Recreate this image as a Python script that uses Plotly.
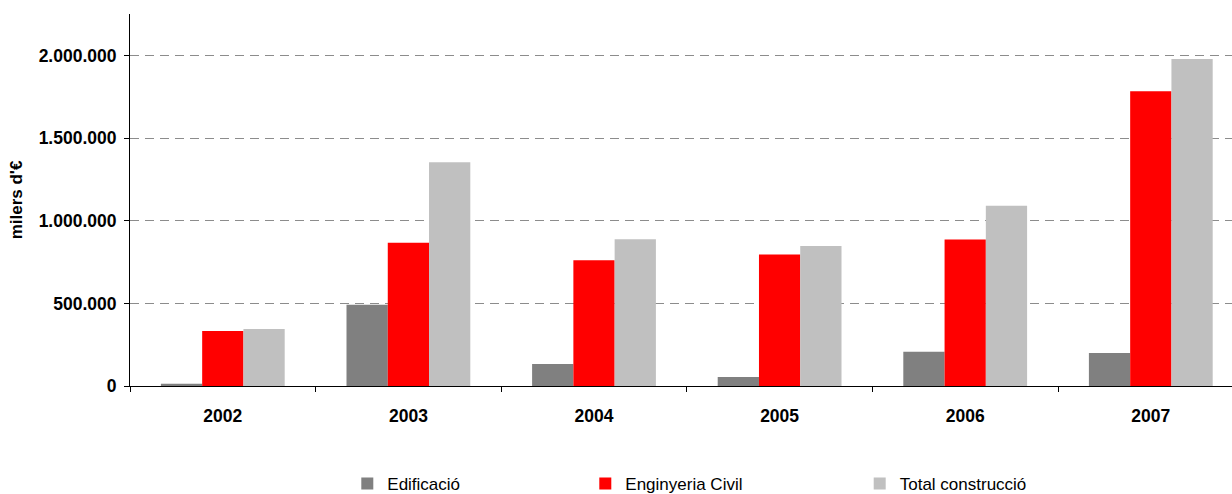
import plotly.graph_objects as go

years = ["2002", "2003", "2004", "2005", "2006", "2007"]
edificacio = [14000, 492000, 133000, 54000, 207000, 200000]
enginyeria = [333000, 867000, 762000, 796000, 887000, 1785000]
total = [345000, 1355000, 889000, 847000, 1091000, 1980000]
series_names = ["Edificació", "Enginyeria Civil", "Total construcció"]
colors = ["#808080", "#FF0000", "#C0C0C0"]
y_ticks = [0, 500000, 1000000, 1500000, 2000000]
y_title = "milers d'€"

FONT = "Liberation Sans, Arial, sans-serif"
W, H = 1232, 494
L, R, T, B = 130, 0, 14, 108
PW = W - L - R
PH = H - T - B

fig = go.Figure()
legends = ["legend", "legend2", "legend3"]
for name, vals, col, lg in zip(series_names, [edificacio, enginyeria, total], colors, legends):
    fig.add_trace(go.Bar(x=years, y=vals, name=name, marker=dict(color=col, line=dict(width=0)),
                         legend=lg))

def px_x(px):
    return (px - L) / PW

legend_text_starts = [384.3, 622.3, 896.7]
leg_common = dict(orientation="h", yanchor="middle", xanchor="left",
                  xref="paper", yref="container",
                  font=dict(family=FONT, size=17, color="#000000"),
                  bgcolor="rgba(0,0,0,0)", borderwidth=0)
layout_legends = {}
for lg, ts in zip(legends, legend_text_starts):
    layout_legends[lg] = dict(x=px_x(ts - 37), y=(H - 484) / H, **leg_common)

fig.update_layout(
    width=W, height=H,
    margin=dict(l=L, r=R, t=T, b=B, pad=0, autoexpand=False),
    paper_bgcolor="white", plot_bgcolor="white",
    barmode="group", bargap=0.333, bargroupgap=0,
    separators=",.",
    font=dict(family=FONT, color="#000000"),
    showlegend=True,
    **layout_legends,
)

fig.update_xaxes(
    type="category", range=[-0.5, -0.5 + PW / 185.6],
    showline=True, linecolor="#000000", linewidth=1,
    ticks="outside", ticklen=5, tickcolor="#000000", tickwidth=1,
    tickson="boundaries", showgrid=False, zeroline=False,
    tickfont=dict(family=FONT, size=17.5, weight="bold", color="#000000"),
    ticklabelstandoff=14,
)
fig.update_yaxes(
    range=[0, (386.3 - 14) / 165.3 * 1e6],
    tickvals=y_ticks, tickformat=",d",
    showline=True, linecolor="#000000", linewidth=1,
    ticks="outside", ticklen=5, tickcolor="#000000", tickwidth=1,
    showgrid=True, gridcolor="#8c8c8c", gridwidth=1, griddash="9px,6px",
    zeroline=False,
    tickfont=dict(family=FONT, size=17.5, weight="bold", color="#000000"),
    ticklabelstandoff=4,
    title=dict(text=y_title, font=dict(family=FONT, size=17, weight="bold", color="#000000"),
               standoff=11),
)

fig.write_html("out.html", config={"displayModeBar": False},
               post_script="document.body.style.margin='0';document.body.style.overflow='hidden';")
